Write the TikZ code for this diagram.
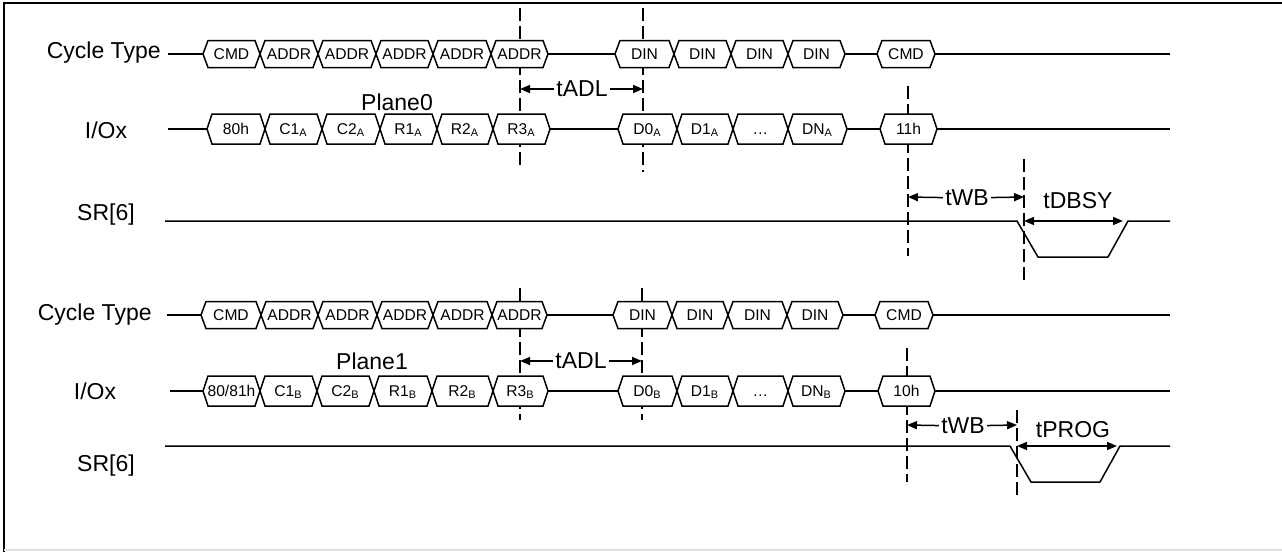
\documentclass[tikz,border=0pt]{standalone}
\usepackage{fontspec}
\setmainfont{Liberation Sans}
\usetikzlibrary{arrows.meta}

\newcommand{\subA}{\textsubscript{A}}
\newcommand{\subB}{\textsubscript{B}}
% one bus row: #1 = y, #2 = half height, #3 = list of left/right/label
\newcommand{\busrow}[3]{%
  \foreach \a/\b/\txt in {#3} {
    \draw[bus] (\a,#1) -- (\a+5,#1-#2) -- (\b-5,#1-#2) -- (\b,#1) -- (\b-5,#1+#2) -- (\a+5,#1+#2) -- cycle;
    \node[buslbl] at ({(\a+\b)/2},#1) {\txt};
  }}

\begin{document}
\begin{tikzpicture}[x=0.5pt, y=-0.5pt,
      sig/.style = {line width=0.75pt},
      bus/.style = {line width=0.75pt, fill=white},
      buslbl/.style = {font=\fontsize{7.8}{9}\selectfont, inner sep=0pt, text height=5.6pt, text depth=0pt},
      lbl/.style = {font=\fontsize{11.5}{13}\selectfont, inner sep=0pt},
      tlbl/.style = {font=\fontsize{11.5}{13}\selectfont, inner sep=1pt},
      tline/.style = {line width=0.75pt, dash pattern=on 6.5pt off 2.5pt},
      dim/.style = {line width=0.75pt, -{Triangle[length=5pt,width=4pt]}},
      dimboth/.style = {line width=0.75pt, {Triangle[length=5pt,width=4pt]}-{Triangle[length=5pt,width=4pt]}}
    ]
    \useasboundingbox (0,0) rectangle (1282,552);
    \draw[line width=1pt] (1290,3) -| (4,552);
    \draw[gray!25, line width=1pt] (4,550) -- (1282,550);

    % timing markers
    \draw[tline] (520,8) -- (520,165);
    \draw[tline] (643,8) -- (643,172);
    \draw[tline] (908,86) -- (908,256);
    \draw[tline] (1024,159) -- (1024,281);
    \draw[tline] (520,288) -- (520,420);
    \draw[tline] (642,288) -- (642,420);
    \draw[tline] (907,348) -- (907,482);
    \draw[tline] (1017,410) -- (1017,497);

    % plane 0
    \node[lbl, anchor=east] (ct1) at (161,53) {Cycle Type};
    \node[lbl] (io1) at (106,130) {I/Ox};
    \node[lbl] (sr1) at (106,215) {SR[6]};
    \node[lbl] (pl0) at (397,102) {Plane0};
    \draw[sig] (168,54) -- (1170,54);
    \draw[sig] (168,129) -- (1170,129);
    \draw[sig] (165,221) -- (1017,221) -- (1038,257) -- (1108,257) -- (1128,221) -- (1170,221);
    \busrow{54}{13.5}{203/260/CMD, 260/318/ADDR, 318/376/ADDR, 376/433/ADDR, 433/491/ADDR, 491/548/ADDR,
      615/674/DIN, 674/731/DIN, 731/788/DIN, 788/845/DIN, 877/935/CMD}
    \busrow{129}{15}{207/265/80h, 265/322/C1\subA, 322/380/C2\subA, 380/437/R1\subA, 437/493/R2\subA, 493/550/R3\subA,
      618/677/D0\subA, 677/733/D1\subA, 733/788/…, 788/847/DN\subA, 880/937/11h}

    \node[tlbl] (tadl1) at (582,89) {tADL};
    \coordinate (adl1a) at (520,89);
    \coordinate (adl1b) at (643,89);
    \draw[dim] (tadl1) -- (adl1a);
    \draw[dim] (tadl1) -- (adl1b);
    \node[tlbl] (twb1) at (967,198) {tWB};
    \coordinate (wb1a) at (908,197);
    \coordinate (wb1b) at (1024,197);
    \draw[dim] (twb1) -- (wb1a);
    \draw[dim] (twb1) -- (wb1b);
    \node[tlbl] (tdbsy) at (1078,201) {tDBSY};
    \coordinate (dbsya) at (1024,221);
    \coordinate (dbsyb) at (1123,221);
    \draw[dimboth] (dbsya) -- (dbsyb);

    % plane 1
    \node[lbl, anchor=east] (ct2) at (152,315) {Cycle Type};
    \node[lbl] (io2) at (95,391) {I/Ox};
    \node[lbl] (sr2) at (106,466) {SR[6]};
    \node[lbl] (pl1) at (372,361) {Plane1};
    \draw[sig] (167,315) -- (1170,315);
    \draw[sig] (170,391) -- (1170,391);
    \draw[sig] (165,446) -- (1010,446) -- (1031,482) -- (1100,482) -- (1120,446) -- (1170,446);
    \busrow{315}{13.5}{201/261/CMD, 261/318/ADDR, 318/377/ADDR, 377/433/ADDR, 433/492/ADDR, 492/547/ADDR,
      613/672/DIN, 672/728/DIN, 728/787/DIN, 787/843/DIN, 875/933/CMD}
    \busrow{391}{15}{203/260/{80/81h}, 260/317/C1\subB, 317/374/C2\subB, 374/432/R1\subB, 432/493/R2\subB, 493/548/R3\subB,
      618/677/D0\subB, 677/733/D1\subB, 733/788/…, 788/845/DN\subB, 878/935/10h}

    \node[tlbl] (tadl2) at (581,361) {tADL};
    \coordinate (adl2a) at (520,361);
    \coordinate (adl2b) at (642,361);
    \draw[dim] (tadl2) -- (adl2a);
    \draw[dim] (tadl2) -- (adl2b);
    \node[tlbl] (twb2) at (963,426) {tWB};
    \coordinate (wb2a) at (907,425);
    \coordinate (wb2b) at (1017,425);
    \draw[dim] (twb2) -- (wb2a);
    \draw[dim] (twb2) -- (wb2b);
    \node[tlbl] (tprog) at (1073,430) {tPROG};
    \coordinate (proga) at (1017,446);
    \coordinate (progb) at (1117,446);
    \draw[dimboth] (proga) -- (progb);
  \end{tikzpicture}
\end{document}
